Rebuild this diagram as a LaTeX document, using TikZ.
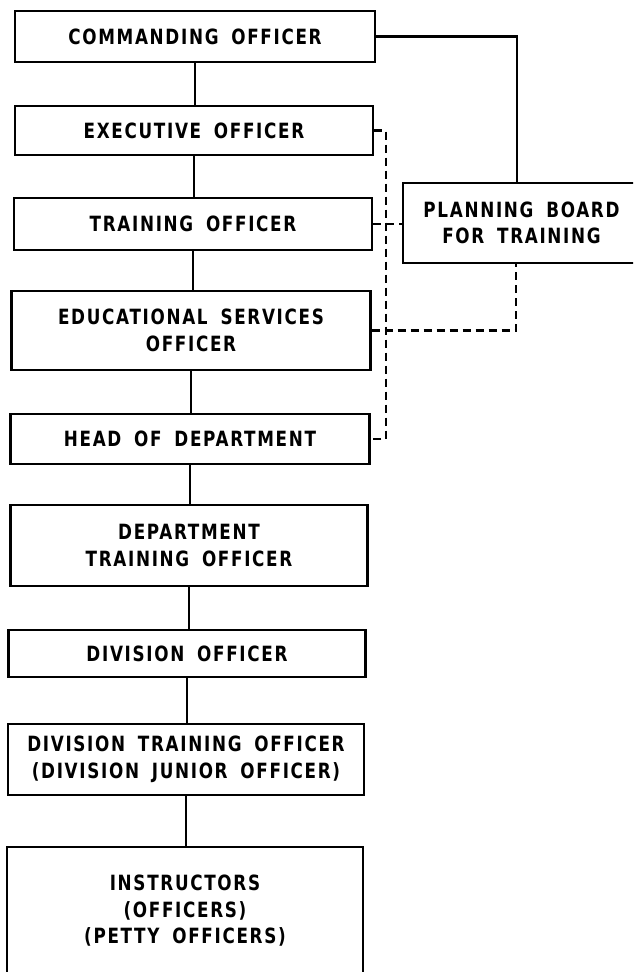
\documentclass[tikz,border=0pt]{standalone}
\usepackage{fontspec}
\newfontfamily\lblfont{DejaVu Sans}[FakeStretch=0.8,LetterSpace=8,WordSpace=1.7]
\usetikzlibrary{calc}
\begin{document}
\begin{tikzpicture}[x=1pt,y=-1pt,
  box/.style={draw, line width=2.4pt, rectangle, inner sep=0pt, align=center,
    font=\lblfont\bfseries\fontsize{21}{26.5}\selectfont},
  link/.style={line width=2.4pt},
  dashlink/.style={line width=2.4pt, dash pattern=on 8pt off 5pt}]
\useasboundingbox (0,0) rectangle (633,972);
\clip (0,0) rectangle (633,972);

% chain of command
\node[box, minimum width=360pt, minimum height=51pt] (co)    at (195,36.5)   {COMMANDING OFFICER};
\node[box, minimum width=358pt, minimum height=49pt] (xo)    at (194,130.5)  {EXECUTIVE OFFICER};
\node[box, minimum width=358pt, minimum height=52pt] (to)    at (193,224)    {TRAINING OFFICER};
\node[box, minimum width=359pt, minimum height=79pt] (eso)   at (191,330.5)  {EDUCATIONAL SERVICES\\OFFICER};
\node[box, minimum width=359pt, minimum height=50pt] (hod)   at (190,439)    {HEAD OF DEPARTMENT};
\node[box, minimum width=357pt, minimum height=81pt] (dto)   at (189,545.5)  {DEPARTMENT\\TRAINING OFFICER};
\node[box, minimum width=357pt, minimum height=47pt] (divo)  at (187,653.5)  {DIVISION OFFICER};
\node[box, minimum width=356pt, minimum height=71pt] (divto) at (186,759.5)  {DIVISION TRAINING OFFICER\\(DIVISION JUNIOR OFFICER)};
\node[box, minimum width=356pt, minimum height=128pt] (inst) at (185,911)    {INSTRUCTORS\\(OFFICERS)\\(PETTY OFFICERS)};

% planning board
\node[box, minimum width=237pt, minimum height=80pt] (pb) at (521.5,223) {PLANNING BOARD\\FOR TRAINING};

% solid links down the chain
\draw[link] (co.south)    -- (co.south    |- xo.north);
\draw[link] (xo.south)    -- (xo.south    |- to.north);
\draw[link] (to.south)    -- (to.south    |- eso.north);
\draw[link] (eso.south)   -- (eso.south   |- hod.north);
\draw[link] (hod.south)   -- (hod.south   |- dto.north);
\draw[link] (dto.south)   -- (dto.south   |- divo.north);
\draw[link] (divo.south)  -- (divo.south  |- divto.north);
\draw[link] (divto.south) -- (divto.south |- inst.north);

% commanding officer to planning board
\coordinate (pbtop) at (517,183);
\draw[link] (co.east) -| (pbtop);

% dashed advisory links
\coordinate (bus) at (386,0);
\coordinate (pbbot) at (516,263);
\draw[dashlink] (xo.east) -- (xo.east -| bus) -- (hod.east -| bus) -- (hod.east);
\draw[dashlink] (to.east) -- (to.east -| pb.west);
\draw[dashlink] (eso.east) -| (pbbot);
\end{tikzpicture}
\end{document}
